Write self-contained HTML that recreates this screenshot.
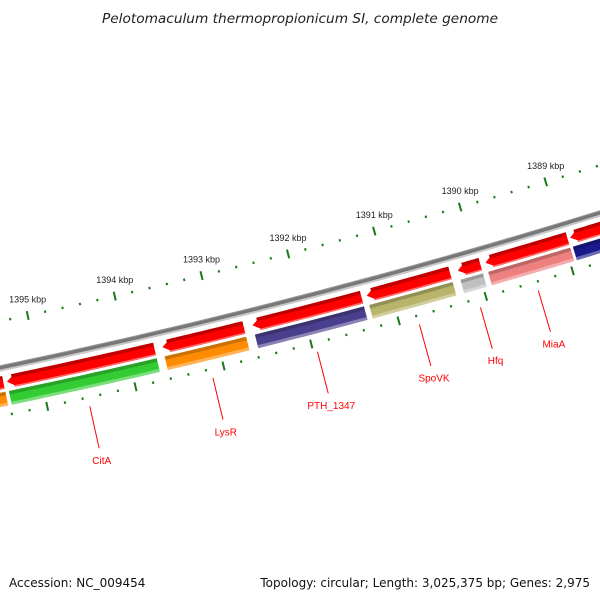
<!DOCTYPE html>
<html><head><meta charset="utf-8"><style>
html,body{margin:0;padding:0;background:#fff;width:600px;height:600px;overflow:hidden}
svg{display:block;font-family:"Liberation Sans",sans-serif}
</style></head><body>
<svg id="map" width="600" height="600" viewBox="0 0 600 600">
<text x="300" y="23" text-anchor="middle" font-size="13.7" font-style="italic" fill="#222" style="font-family:'DejaVu Sans',sans-serif">Pelotomaculum thermopropionicum SI, complete genome</text>
<g id="layer"></g>
<text x="9" y="587" font-size="12" fill="#111" style="font-family:'DejaVu Sans',sans-serif">Accession: NC_009454</text>
<text x="590" y="587" text-anchor="end" font-size="12" fill="#111" style="font-family:'DejaVu Sans',sans-serif">Topology: circular; Length: 3,025,375 bp; Genes: 2,975</text>
</svg>
<script>
// data
const tickKbp = [1389, 1390, 1391, 1392, 1393, 1394, 1395];
const geneStart = [1395.9, 1395.38, 1393.61, 1392.58, 1391.27, 1390.22, 1389.90, 1388.92];
const geneEnd   = [1395.42, 1393.70, 1392.68, 1391.33, 1390.31, 1389.96, 1388.95, 1388.0];
const cdsStart = [1395.9, 1395.38, 1393.61, 1392.58, 1391.27, 1390.22, 1389.90, 1388.92];
const cdsEnd   = [1395.42, 1393.70, 1392.68, 1391.33, 1390.31, 1389.96, 1388.95, 1388.0];
const cdsColor = ["#ff8c00", "#33cc33", "#ff8c00", "#4a3f8c", "#b8b46a", "#c0c0c0", "#ee8080", "#1a1a8c"];
const cdsName  = ["", "CitA", "LysR", "PTH_1347", "SpoVK", "Hfq", "MiaA", ""];

const CX = -1352, CY = -6106;
const R_BACK = 6614, R_TICK1 = 6568, R_TICK2 = 6661;
function ang(k){ return (75.54 + (k - 1392) * 0.778) * Math.PI / 180; }
function pt(k, r){ const a = ang(k); return [CX + r * Math.cos(a), CY + r * Math.sin(a)]; }
const NS = "http://www.w3.org/2000/svg";
const layer = document.getElementById("layer");
function mk(tag, attrs){ const e = document.createElementNS(NS, tag); for (const k in attrs) e.setAttribute(k, attrs[k]); layer.appendChild(e); return e; }
function band(k1, k2, r1, r2, arrowLen){
  const n = 12, p = [];
  const ka = k1 - (arrowLen || 0);
  for (let i = 0; i <= n; i++){ const k = ka + (k2 - ka) * i / n; p.push(pt(k, r1)); }
  for (let i = n; i >= 0; i--){ const k = ka + (k2 - ka) * i / n; p.push(pt(k, r2)); }
  if (arrowLen){ p.push(pt(k1, (r1 + r2) / 2)); }
  return p.map(q => q[0].toFixed(1) + "," + q[1].toFixed(1)).join(" ");
}
function arcPath(k1, k2, r){ const a = pt(k1, r), b = pt(k2, r); return "M" + a[0] + "," + a[1] + " A" + r + "," + r + " 0 0 0 " + b[0] + "," + b[1]; }

// backbone
let e = mk("path", {d: arcPath(1397, 1387.5, R_BACK + 2), stroke: "#c8c8c8", "stroke-width": 2.5, fill: "none"});


e = mk("path", {d: arcPath(1397, 1387.5, R_BACK - 0.8), stroke: "#777", "stroke-width": 4, fill: "none"});


e = mk("path", {d: arcPath(1397, 1387.5, R_BACK - 2.5), stroke: "#999", "stroke-width": 1, fill: "none"});



// ticks
for (let k = 1387.6; k <= 1396.01; k += 0.2){
  const kk = Math.round(k * 10) / 10;
  const major = Math.abs(kk - Math.round(kk)) < 0.01;
  [R_TICK1, R_TICK2].forEach((r) => {
    const h = major ? 4.5 : 1.2;
    const a = pt(kk, r - h), b = pt(kk, r + h);
    const t = mk("line", {x1: a[0], y1: a[1], x2: b[0], y2: b[1], stroke: "#1a7a1a", "stroke-width": 2});
    
    
  });
}
tickKbp.forEach(k => {
  const p = pt(k, R_TICK1);
  const t = mk("text", {x: p[0], y: p[1] - 13, "text-anchor": "middle", "font-size": 9, fill: "#222"});
  t.textContent = k + " kbp";
  
  
});

// genes (red arrows)
geneStart.forEach((s, i) => {
  const g = mk("polygon", {points: band(s, geneEnd[i], R_BACK + 8, R_BACK + 21, 0.1), fill: "#ff0000"});
  
  
  const top = mk("polygon", {points: band(s - 0.06, geneEnd[i], R_BACK + 8, R_BACK + 11.5, 0), fill: "#c00000"});
  
  
  const bot = mk("polygon", {points: band(s - 0.07, geneEnd[i], R_BACK + 19.5, R_BACK + 21, 0), fill: "#ff6a6a"});
  
  
});

// CDS colored bars
cdsStart.forEach((s, i) => {
  const c = mk("polygon", {points: band(s, cdsEnd[i], R_BACK + 24, R_BACK + 38, 0), fill: cdsColor[i]});
  
  
  const top = mk("polygon", {points: band(s, cdsEnd[i], R_BACK + 24, R_BACK + 27.5, 0), fill: "#000", "fill-opacity": 0.2});
  
  
  const bot = mk("polygon", {points: band(s, cdsEnd[i], R_BACK + 35, R_BACK + 38, 0), fill: "#fff", "fill-opacity": 0.35});
  
  
  if (cdsName[i]){
    const m = (s + cdsEnd[i]) / 2;
    const a = pt(m, R_BACK + 56), b = pt(m, R_BACK + 99), lp = pt(m, R_BACK + 111);
    const l = mk("line", {x1: a[0], y1: a[1], x2: b[0], y2: b[1], stroke: "#ff0000", "stroke-width": 1});
    
    
    const t = mk("text", {x: lp[0], y: lp[1] + 4, "text-anchor": "middle", "font-size": 10, fill: "#ff0000"});
    t.textContent = cdsName[i];
    
    
  }
});
</script>
</body></html>
